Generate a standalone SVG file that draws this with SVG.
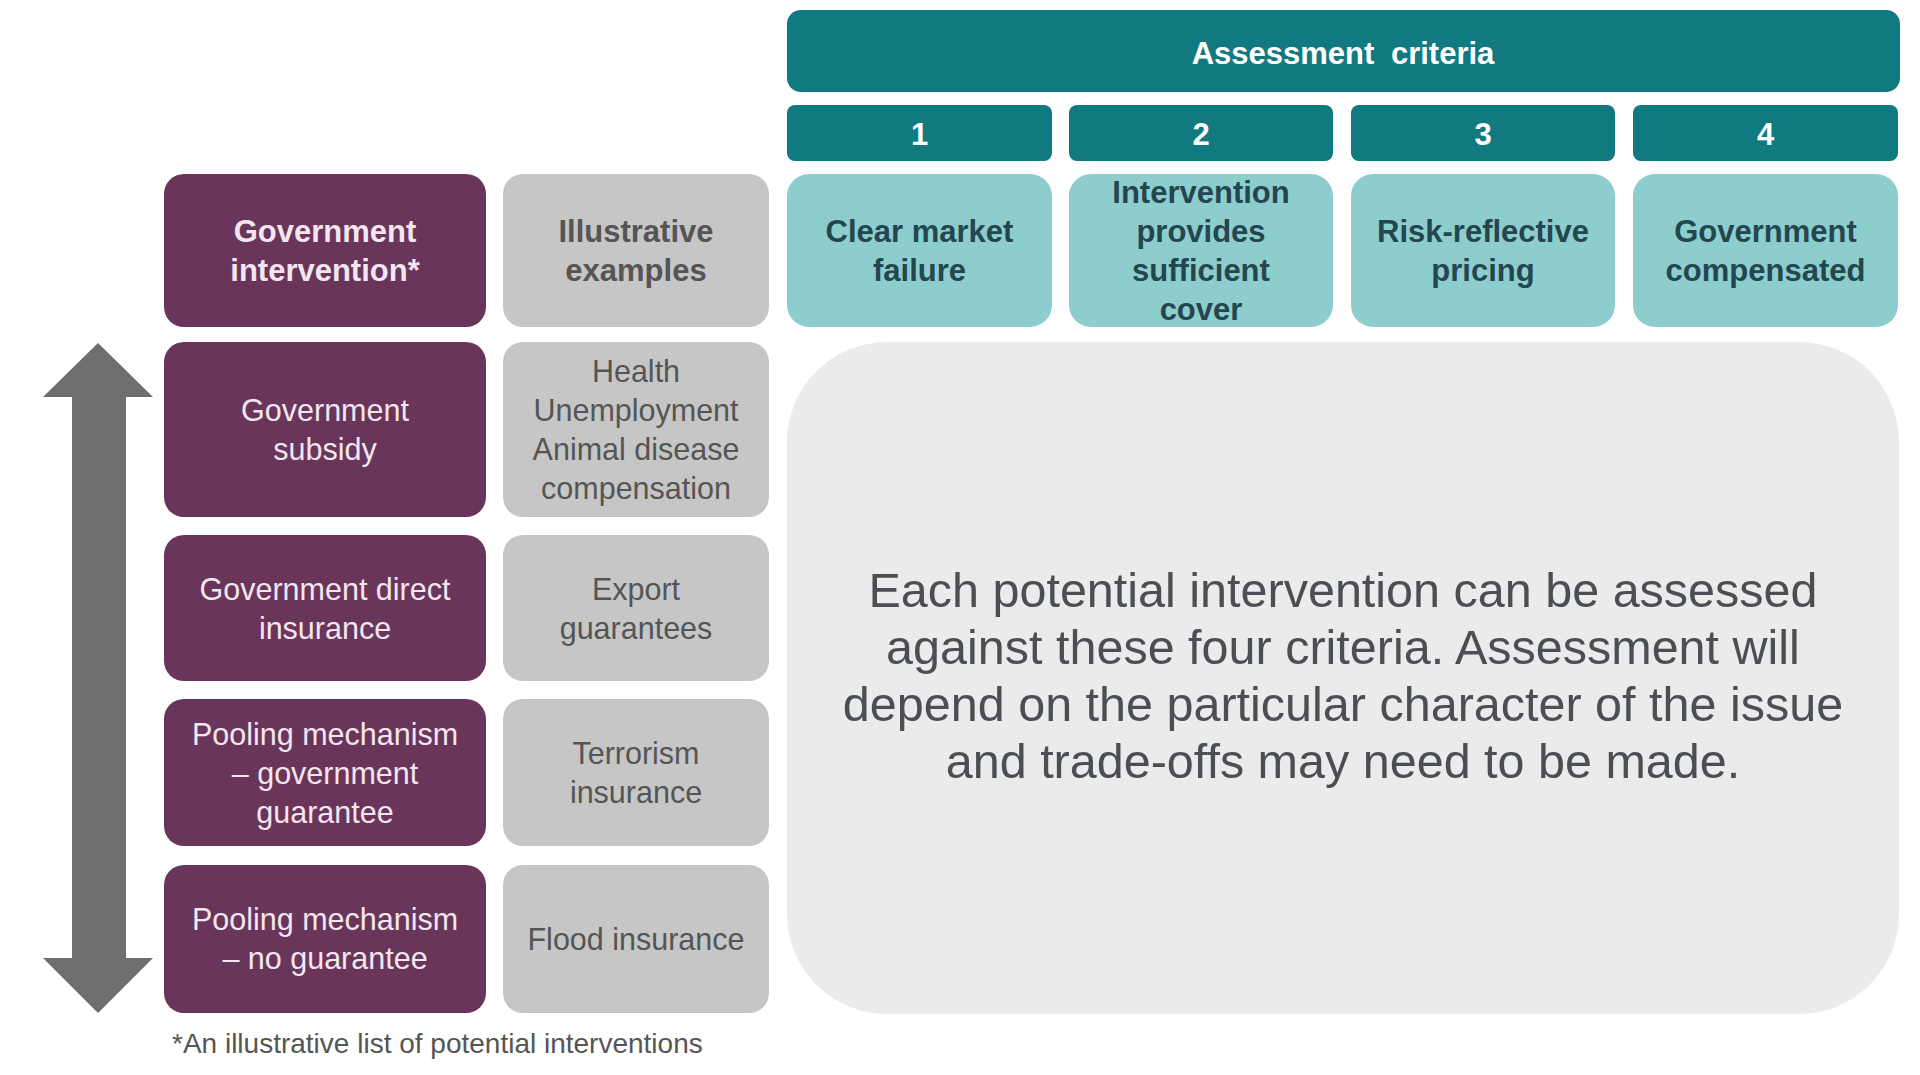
<svg xmlns="http://www.w3.org/2000/svg" width="1920" height="1075" viewBox="0 0 1920 1075">
<style>
  text { font-family: "Liberation Sans", Arial, sans-serif; text-anchor: middle; }
  .dark { fill: #117a80; }
  .crit { fill: #8dcdcd; }
  .purple { fill: #6a355a; }
  .grey { fill: #c6c6c6; }
  .tw { fill: #ffffff; font-weight: bold; font-size: 31px; }
  .tc { fill: #24464f; font-weight: bold; font-size: 31px; }
  .tp { fill: #f3e6ef; font-size: 30.5px; }
  .tpb { fill: #f3e6ef; font-size: 31px; font-weight: bold; }
  .tg { fill: #555555; font-size: 30.5px; }
  .big { fill: #4b4f54; font-size: 48.5px; }
  .foot { fill: #555555; font-size: 28px; text-anchor: start; }
</style>
<rect width="1920" height="1075" fill="#ffffff"/>

<g id="connectors">
  <polygon fill="#6d6e70" points="98,343 153,397 126,397 126,958 153,958 98,1013 43,958 72,958 72,397 43,397"/>
</g>

<g id="assessment-criteria">
  <rect class="dark" x="787" y="10" width="1113" height="82" rx="14"/>
  <text class="tw" x="1343" y="64" word-spacing="8">Assessment criteria</text>
</g>

<g id="num-1"><rect class="dark" x="787" y="105" width="265" height="56" rx="8"/><text class="tw" x="919.5" y="145">1</text></g>
<g id="num-2"><rect class="dark" x="1069" y="105" width="264" height="56" rx="8"/><text class="tw" x="1201" y="145">2</text></g>
<g id="num-3"><rect class="dark" x="1351" y="105" width="264" height="56" rx="8"/><text class="tw" x="1483" y="145">3</text></g>
<g id="num-4"><rect class="dark" x="1633" y="105" width="265" height="56" rx="8"/><text class="tw" x="1765.5" y="145">4</text></g>

<g id="crit-1"><rect class="crit" x="787" y="174" width="265" height="153" rx="22"/>
  <text class="tc" x="919.5" y="242">Clear market</text><text class="tc" x="919.5" y="281">failure</text></g>
<g id="crit-2"><rect class="crit" x="1069" y="174" width="264" height="153" rx="22"/>
  <text class="tc" x="1201" y="203">Intervention</text><text class="tc" x="1201" y="242">provides</text><text class="tc" x="1201" y="281">sufficient</text><text class="tc" x="1201" y="320">cover</text></g>
<g id="crit-3"><rect class="crit" x="1351" y="174" width="264" height="153" rx="22"/>
  <text class="tc" x="1483" y="242">Risk-reflective</text><text class="tc" x="1483" y="281">pricing</text></g>
<g id="crit-4"><rect class="crit" x="1633" y="174" width="265" height="153" rx="22"/>
  <text class="tc" x="1765.5" y="242">Government</text><text class="tc" x="1765.5" y="281">compensated</text></g>

<g id="hdr-intervention"><rect class="purple" x="164" y="174" width="322" height="153" rx="20"/>
  <text class="tpb" x="325" y="242">Government</text><text class="tpb" x="325" y="281">intervention*</text></g>
<g id="hdr-examples"><rect class="grey" x="503" y="174" width="266" height="153" rx="20"/>
  <text class="tc" style="fill:#555555" x="636" y="242">Illustrative</text><text class="tc" style="fill:#555555" x="636" y="281">examples</text></g>

<g id="row-subsidy"><rect class="purple" x="164" y="342" width="322" height="175" rx="20"/>
  <text class="tp" x="325" y="421">Government</text><text class="tp" x="325" y="460">subsidy</text></g>
<g id="ex-subsidy"><rect class="grey" x="503" y="342" width="266" height="175" rx="20"/>
  <text class="tg" x="636" y="382">Health</text><text class="tg" x="636" y="421">Unemployment</text><text class="tg" x="636" y="460">Animal disease</text><text class="tg" x="636" y="499">compensation</text></g>

<g id="row-direct"><rect class="purple" x="164" y="535" width="322" height="146" rx="20"/>
  <text class="tp" x="325" y="600">Government direct</text><text class="tp" x="325" y="639">insurance</text></g>
<g id="ex-direct"><rect class="grey" x="503" y="535" width="266" height="146" rx="20"/>
  <text class="tg" x="636" y="600">Export</text><text class="tg" x="636" y="639">guarantees</text></g>

<g id="row-pool-guarantee"><rect class="purple" x="164" y="699" width="322" height="147" rx="20"/>
  <text class="tp" x="325" y="745">Pooling mechanism</text><text class="tp" x="325" y="784">– government</text><text class="tp" x="325" y="823">guarantee</text></g>
<g id="ex-pool-guarantee"><rect class="grey" x="503" y="699" width="266" height="147" rx="20"/>
  <text class="tg" x="636" y="764">Terrorism</text><text class="tg" x="636" y="803">insurance</text></g>

<g id="row-pool-none"><rect class="purple" x="164" y="865" width="322" height="148" rx="20"/>
  <text class="tp" x="325" y="930">Pooling mechanism</text><text class="tp" x="325" y="969">– no guarantee</text></g>
<g id="ex-pool-none"><rect class="grey" x="503" y="865" width="266" height="148" rx="20"/>
  <text class="tg" x="636" y="950">Flood insurance</text></g>

<g id="assessment-note"><rect fill="#ebebeb" x="787" y="342" width="1112" height="672" rx="100"/>
  <text class="big" x="1343" y="607">Each potential intervention can be assessed</text>
  <text class="big" x="1343" y="664">against these four criteria. Assessment will</text>
  <text class="big" x="1343" y="721">depend on the particular character of the issue</text>
  <text class="big" x="1343" y="778">and trade-offs may need to be made.</text></g>

<g id="footnote"><text class="foot" x="172" y="1053">*An illustrative list of potential interventions</text></g>
</svg>
